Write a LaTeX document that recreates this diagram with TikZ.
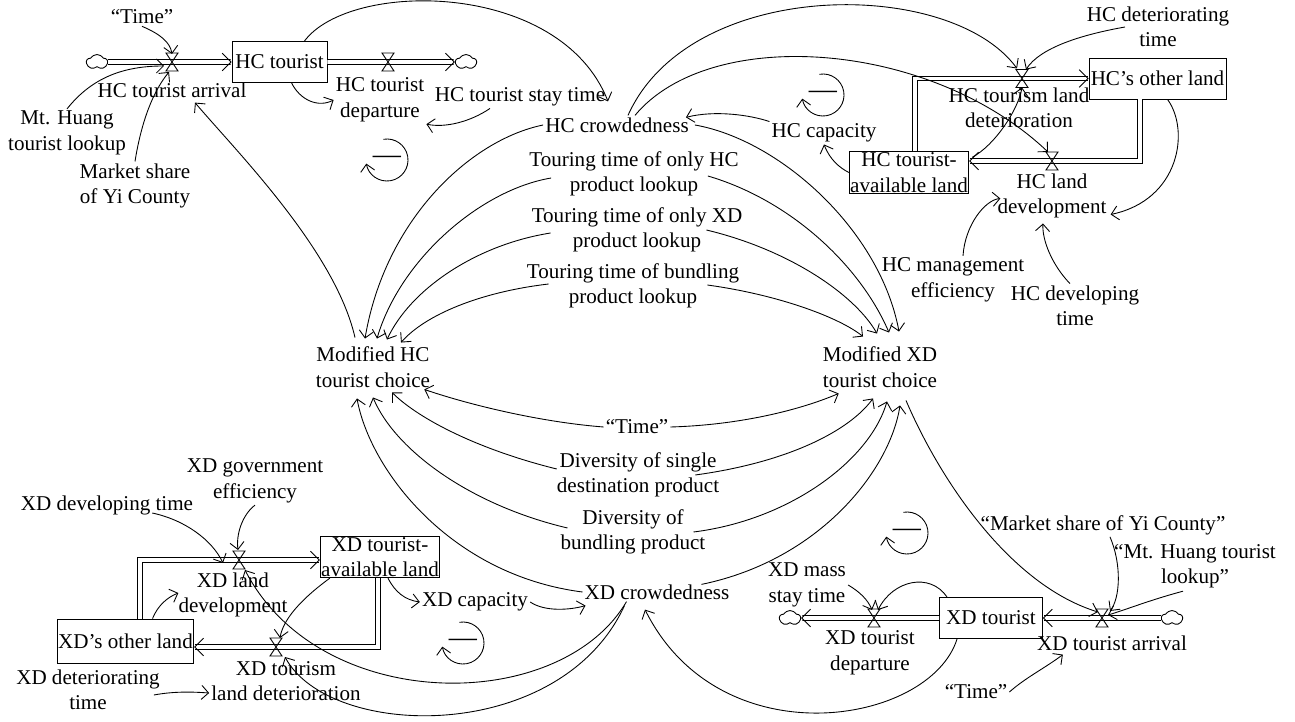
\documentclass[tikz,border=0pt]{standalone}
\usepackage{fontspec}
\setmainfont{Liberation Serif}
\usetikzlibrary{arrows.meta,shapes.symbols,calc}

\tikzset{
  var/.style={align=center, inner sep=1pt},
  stock/.style={draw, align=center, inner sep=0.5pt, minimum height=0.82cm},
  sink/.style={cloud, draw, cloud puffs=5, cloud puff arc=120, aspect=1.3,
    minimum width=0.42cm, minimum height=0.3cm, inner sep=0pt},
  pipe/.style={double, double distance=2.2pt, -{Straight Barb[length=5pt,width=10pt]}},
  link/.style={-{Straight Barb[length=4pt,width=8pt]}},
  valve/.pic={\draw (-6,-9) -- (6,-9) -- (-6,9) -- (6,9) -- cycle;},
  loopsym/.pic={
    \draw[link] (-100:21) arc[start angle=-100, end angle=170, radius=21];
    \node[font=\fontsize{16}{16}\selectfont] at (0,0) {---};}
}

\begin{document}
\begin{tikzpicture}[x=0.02cm, y=-0.02cm, font=\fontsize{12}{14.5}\selectfont, line width=0.5pt]
\useasboundingbox (0,0) rectangle (1295,722);

% HC tourist
\node[sink] (sHCin) at (97,62) {};
\coordinate (vHCarr) at (172,62);
\node[stock, minimum width=1.9cm] (HCt) at (279.5,62) {HC tourist};
\coordinate (vHCdep) at (388,62);
\node[sink] (sHCout) at (466,62) {};
\draw[pipe] (sHCin) -- (HCt);
\draw[pipe] (HCt) -- (sHCout);

\node[var] (lHCarr) at (172,90) {HC tourist arrival};
\node[var] (lHCdep) at (380,100) {HC tourist\\departure};
\node[var] (HCstay) at (520,97) {HC tourist stay time};
\node[var] (HCtime) at (142,17) {“Time”};
\node[var] (HCmt) at (67,133) {Mt. Huang\\tourist lookup};
\node[var] (HCms) at (135,186) {Market share\\of Yi County};

\draw[link] (HCtime.south) .. controls (160,34) and (170,42) .. ($(vHCarr)+(0,-8)$);
\draw[link] (HCmt.north) .. controls (90,80) and (120,66) .. ($(vHCarr)+(-8,4)$);
\draw[link] (HCms.north) .. controls (140,130) and (150,95) .. ($(vHCarr)+(-3,10)$);
\draw[link] (HCt.-60) .. controls (300,100) and (318,108) .. (lHCdep.west);
\draw[link] ($(HCstay.south)+(-30,0)$) .. controls (470,122) and (445,128) .. (lHCdep.south east);

% HC crowdedness
\node[var] (HCcrowd) at (617,125) {HC crowdedness};
\node[var] (HCcap) at (824,133) {HC capacity};
\draw[link] (HCt.40) .. controls (350,-20) and (560,-20) .. ($(HCcrowd.north)+(-9,-14)$);
\draw[link] (HCcap.north west) .. controls (750,115) and (715,110) .. ($(HCcrowd.north east)+(-5,2)$);

\foreach \p in {(387,160),(823,95),(907,533),(463,643)}
  \pic at \p {loopsym};

% HC land
\node[stock, minimum width=2.32cm] (HCav) at (909,172.5) {HC tourist-\\available land};
\node[stock, minimum width=2.74cm] (HCol) at (1157.5,78.5) {HC’s other land};
\coordinate (kHCa) at (915,78.5);
\coordinate (vHCdet) at (1022,78.5);
\coordinate (kHCb) at (1140,161);
\coordinate (vHCdev) at (1052,161);
\draw[pipe] (HCav.north -| kHCa) -- (kHCa) -- (HCol.west);
\draw[pipe] (HCol.south -| kHCb) -- (kHCb) -- (HCav.east |- kHCb);

\node[var] (lHCdet) at (1019,108) {HC tourism land\\deterioration};
\node[var] (lHCdev) at (1052,196) {HC land\\development};
\node[var] (HCdt) at (1158,27) {HC deteriorating\\time};
\node[var] (HCme) at (953,280) {HC management\\efficiency};
\node[var] (HCdvt) at (1075,306) {HC developing\\time};

\draw[link] ($(HCdt)+(-33,0)$) .. controls (1080,35) and (1040,48) .. ($(vHCdet)+(4,-9)$);
\draw[link] ($(HCav.north east)+(3,6)$) .. controls (995,145) and (1018,110) .. ($(vHCdet)+(0,9)$);
\draw[link] ($(HCol.south)+(10,0)$) .. controls (1190,130) and (1180,200) .. ($(lHCdev.south east)+(2,-6)$);
\draw[link] ($(HCme.north)+(10,0)$) .. controls (965,225) and (985,200) .. ($(lHCdev.south west)+(5,-22)$);
\draw[link] ($(HCdvt.north)+(-5,0)$) .. controls (1052,265) and (1042,240) .. ($(lHCdev.south)+(-9,3)$);
\draw[link] (HCav.west) .. controls (840,168) and (830,160) .. (HCcap.south);
\draw[link] ($(HCcrowd.north)+(11,0)$) .. controls (690,-23) and (950,-23) .. ($(vHCdet)+(-5,-10)$);
\draw[link] ($(HCcrowd.north)+(18,0)$) .. controls (710,25) and (930,40) .. ($(vHCdev)+(-4,-9)$);

% tourist choice
\node[var] (mHC) at (373,367) {Modified HC\\tourist choice};
\node[var] (mXD) at (880,367) {Modified XD\\tourist choice};
\node[var] (tHC) at (634,174) {Touring time of only HC\\product lookup};
\node[var] (tXD) at (637,230) {Touring time of only XD\\product lookup};
\node[var] (tBU) at (633,286) {Touring time of bundling\\product lookup};

\draw[link] (HCcrowd.west) .. controls (470,140) and (385,220) .. ($(mHC.north)+(-8,-6)$);
\draw[link] ($(HCcrowd.east)+(4,0)$) .. controls (780,140) and (880,230) .. ($(mXD.north)+(19,-13)$);
\draw[link] ($(tHC.west)+(24,4)$) .. controls (480,190) and (400,260) .. ($(mHC.north)+(4,-6)$);
\draw[link] ($(tHC.east)+(-33,2)$) .. controls (790,200) and (860,265) .. ($(mXD.north)+(9,-12)$);
\draw[link] ($(tXD.west)+(21,3)$) .. controls (475,245) and (410,290) .. ($(mHC.north)+(14,-5)$);
\draw[link] ($(tXD.east)+(-38,0)$) .. controls (790,250) and (855,295) .. ($(mXD.north)+(-3,-11)$);
\draw[link] ($(tBU.west)+(24,-2)$) .. controls (480,292) and (425,315) .. ($(mHC.north)+(28,-2)$);
\draw[link] ($(tBU.east)+(-34,-1)$) .. controls (780,295) and (840,318) .. ($(mXD.north)+(-17,-8)$);
\draw[link] ($(mHC.north)+(-18,-7)$) .. controls (335,250) and (235,150) .. ($(lHCarr.south)+(23,3)$);

\node[var] (mTime) at (637,427) {“Time”};
\node[var] (dSingle) at (638,475) {Diversity of single\\destination product};
\node[var] (dBundle) at (633,532) {Diversity of\\bundling product};
\node[var] (XDcrowd) at (657,592) {XD crowdedness};
\node[var] (XDcap) at (475,602) {XD capacity};

\draw[link] (mTime.west) .. controls (540,422) and (470,405) .. ($(mHC.south east)+(-8,0)$);
\draw[link] (mTime.east) .. controls (740,425) and (800,410) .. ($(mXD.south west)+(18,4)$);
\draw[link] ($(dSingle.west)+(2,-6)$) .. controls (480,450) and (420,420) .. ($(mHC.south)+(19,3)$);
\draw[link] ($(dSingle.east)+(-26,0)$) .. controls (790,462) and (850,430) .. ($(mXD.south)+(-7,9)$);
\draw[link] ($(dBundle.west)+(9,-4)$) .. controls (470,505) and (395,450) .. ($(mHC.south)+(0,8)$);
\draw[link] ($(dBundle.east)+(-14,0)$) .. controls (790,520) and (870,460) .. ($(mXD.south)+(7,12)$);
\draw[link] (XDcrowd.west) .. controls (450,575) and (370,470) .. ($(mHC.south)+(-16,9)$);
\draw[link] ($(XDcrowd.north east)+(-30,2)$) .. controls (820,560) and (890,470) .. ($(mXD.south)+(20,16)$);

% XD land
\node[stock, minimum width=2.28cm] (XDav) at (380,557) {XD tourist-\\available land};
\node[stock, minimum width=2.66cm, minimum height=0.88cm] (XDol) at (125.5,641) {XD’s other land};
\coordinate (kXDa) at (140,560);
\coordinate (vXDdev) at (239,560);
\coordinate (kXDb) at (378,647);
\coordinate (vXDdet) at (276,647);
\draw[pipe] (XDol.north -| kXDa) -- (kXDa) -- (XDav.west |- kXDa);
\draw[pipe] (XDav.south -| kXDb) -- (kXDb) -- (XDol.east |- kXDb);

\node[var] (XDge) at (255,481) {XD government\\efficiency};
\node[var] (XDdvt) at (107,505) {XD developing time};
\node[var] (lXDdev) at (233,595) {XD land\\development};
\node[var] (lXDdet) at (286,681) {XD tourism\\land deterioration};
\node[var] (XDdt) at (88,690) {XD deteriorating\\time};

\draw[link] (XDge.south) .. controls (242,515) and (236,535) .. ($(vXDdev)+(-1,-10)$);
\draw[link] ($(XDdvt.east)+(-43,8)$) .. controls (185,520) and (212,540) .. ($(vXDdev)+(-16,3)$);
\draw[link] ($(XDol.north)+(27,0)$) .. controls (158,605) and (168,597) .. ($(lXDdev.west)+(2,-2)$);
\draw[link] ($(XDav.south west)+(10,0)$) .. controls (300,600) and (283,620) .. ($(vXDdet)+(4,-9)$);
\draw[link] ($(XDav.south)+(8,0)$) .. controls (395,592) and (405,600) .. (XDcap.west);
\draw[link] (XDcap.east) .. controls (545,612) and (570,610) .. ($(XDcrowd.south west)+(3,4)$);
\draw[link] ($(XDdt.east)+(-8,5)$) .. controls (175,691) and (195,692) .. ($(lXDdet.west)+(0,12)$);
\draw[link] ($(XDcrowd.south west)+(44,0)$) .. controls (560,715) and (320,715) .. ($(vXDdev)+(6,10)$);
\draw[link] ($(XDcrowd.south west)+(42,4)$) .. controls (560,745) and (330,740) .. ($(vXDdet)+(9,10)$);

% XD tourist
\node[stock, minimum width=2.06cm] (XDt) at (991,618) {XD tourist};
\coordinate (vXDarr) at (1102,618);
\node[sink] (sXDin) at (1172,618) {};
\coordinate (vXDdep) at (874,618);
\node[sink] (sXDout) at (790,618) {};
\draw[pipe] (sXDin) -- (XDt);
\draw[pipe] (XDt) -- (sXDout);

\node[var] (lXDarr) at (1112,643) {XD tourist arrival};
\node[var] (lXDdep) at (870,653) {XD tourist\\departure};
\node[var] (XDstay) at (807,585) {XD mass\\stay time};
\node[var] (XDtime) at (976,692) {“Time”};
\node[var] (XDms) at (1103,525) {“Market share of Yi County”};
\node[var] (XDmt) at (1195,566) {“Mt. Huang tourist\\lookup”};

\draw[link] (XDstay.east) .. controls (860,592) and (868,600) .. ($(vXDdep)+(-2,-8)$);
\draw[link] ($(XDt.north west)+(8,0)$) .. controls (930,572) and (893,580) .. ($(vXDdep)+(4,-8)$);
\draw[link] (XDtime.east) .. controls (1025,678) and (1045,668) .. ($(lXDarr.south west)+(28,2)$);
\draw[link] ($(XDms.south)+(7,0)$) .. controls (1122,565) and (1120,598) .. ($(vXDarr)+(8,-7)$);
\draw[link] ($(XDmt.south)+(-12,1)$) .. controls (1150,600) and (1125,610) .. ($(vXDarr)+(6,-3)$);
\draw[link] ($(mXD.south)+(26,11)$) .. controls (940,480) and (1010,585) .. ($(vXDarr)+(-4,-6)$);
\draw[link] ($(XDt.south west)+(18,0)$) .. controls (930,725) and (720,760) .. ($(XDcrowd.south)+(-12,8)$);

\foreach \v in {vHCarr,vHCdep,vHCdet,vHCdev,vXDdev,vXDdet,vXDarr,vXDdep}
  \pic at (\v) {valve};
\end{tikzpicture}
\end{document}
